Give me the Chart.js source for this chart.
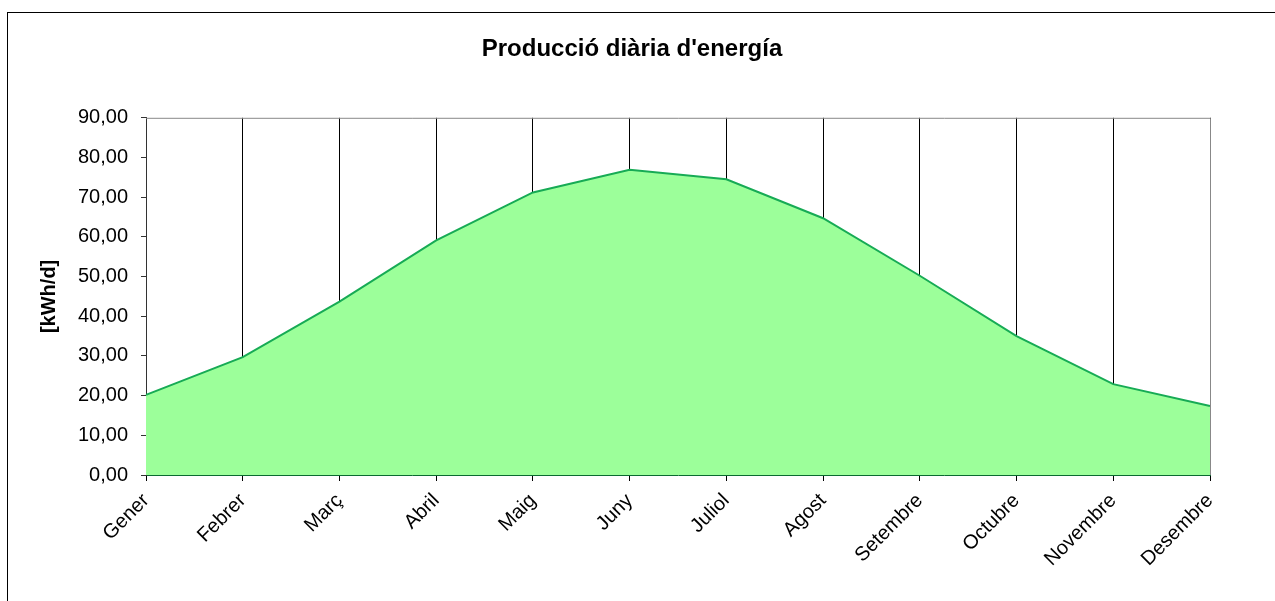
<!DOCTYPE html>
<html lang="ca">

<head>
  <meta charset="UTF-8">
  <title>Producció diària d'energía</title>
  <script src="https://cdn.jsdelivr.net/npm/chart.js"></script>
  <style>
    html, body { margin: 0; padding: 0; background: #fff; overflow: hidden; }
    #frame {
      position: absolute; left: 7px; top: 12px; width: 1300px; height: 700px;
      border-left: 1px solid #000; border-top: 1px solid #000;
    }
    #wrap { position: absolute; left: 0; top: 0; width: 1275px; height: 601px; }
  </style>
</head>

<body>
  <div id="frame"></div>
  <div id="wrap"><canvas id="myChart" width="1275" height="601"></canvas></div>

  <script>
    // months (x categories)
    const months = ['Gener', 'Febrer', 'Març', 'Abril', 'Maig', 'Juny',
      'Juliol', 'Agost', 'Setembre', 'Octubre', 'Novembre', 'Desembre'];
    // daily energy production, kWh/d
    const production = [20.2, 29.7, 43.7, 59.1, 71.2, 76.9, 74.5, 64.7, 50.2, 35.0, 22.9, 17.4];
    const yMin = 0;
    const yMax = 90;
    const yStep = 10;

    const font = "'Liberation Sans', Arial, sans-serif";

    // gray frame on top/right of the plot area
    const plotFrame = {
      id: 'plotFrame',
      afterDatasetsDraw(chart) {
        const { ctx, chartArea: a } = chart;
        ctx.save();
        ctx.strokeStyle = '#888';
        ctx.lineWidth = 1;
        ctx.beginPath();
        ctx.moveTo(a.left, a.top + 0.5);
        ctx.lineTo(a.right + 0.5, a.top + 0.5);
        ctx.lineTo(a.right + 0.5, a.bottom);
        ctx.stroke();
        ctx.restore();
      }
    };

    const ctx = document.getElementById('myChart').getContext('2d');

    const myChart = new Chart(ctx, {
      type: 'line',
      data: {
        labels: months,
        datasets: [{
          data: production,
          borderColor: '#17ab55',
          borderWidth: 2,
          backgroundColor: '#9cff9a',
          fill: 'origin',
          pointRadius: 0,
          tension: 0,
        }],
      },
      options: {
        responsive: false,
        animation: false,
        layout: { padding: { left: 0, right: 11, top: 0, bottom: 0 } },
        plugins: {
          legend: { display: false },
          tooltip: { enabled: false },
          title: {
            display: true,
            text: "Producció diària d'energía",
            color: '#000',
            font: { family: font, size: 24, weight: 'bold', lineHeight: 1.2 },
            padding: { top: 35, bottom: 54 },
          },
        },
        scales: {
          x: {
            offset: false,
            grid: {
              color: '#000',
              lineWidth: 1,
              drawOnChartArea: true,
              drawTicks: true,
              tickLength: 6,
              tickColor: '#000',
            },
            border: { color: '#0a6a30', width: 1 },
            ticks: {
              color: '#000',
              font: { family: font, size: 20 },
              maxRotation: 45,
              minRotation: 45,
              autoSkip: false,
              padding: 8,
            },
            afterFit(scale) { scale.height = 126; },
          },
          y: {
            min: yMin,
            max: yMax,
            grid: {
              drawOnChartArea: false,
              drawTicks: true,
              tickLength: 5,
              tickColor: '#333',
            },
            border: { color: '#333', width: 1 },
            ticks: {
              stepSize: yStep,
              color: '#000',
              font: { family: font, size: 20 },
              padding: 13,
              callback: (v) => v.toFixed(2).replace('.', ','),
            },
            title: {
              display: true,
              text: '[kWh/d]',
              color: '#000',
              font: { family: font, size: 20, weight: 'bold', lineHeight: 1.2 },
              padding: { top: 37, bottom: 0 },
            },
            afterFit(scale) { scale.width = 146; },
          },
          // empty right-hand box that keeps the plot's right edge at the reference position
          yRight: {
            position: 'right',
            display: true,
            grid: { display: false },
            border: { display: false },
            ticks: { display: false },
            afterFit(scale) { scale.width = 54; },
          },
        },
      },
      plugins: [plotFrame],
    });
  </script>
</body>

</html>
